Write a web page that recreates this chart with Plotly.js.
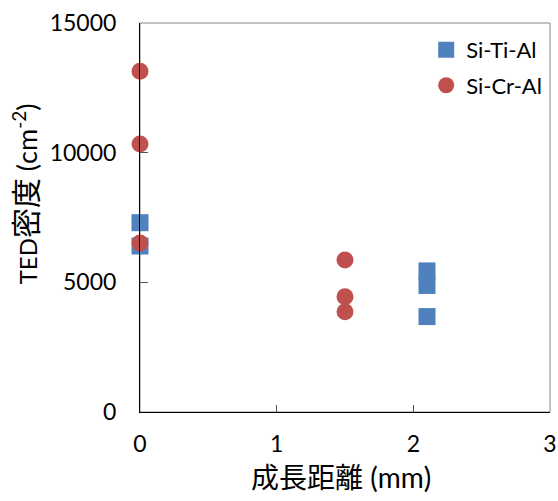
<!DOCTYPE html>
<html>
<head>
<meta charset="utf-8">
<script src="https://cdn.plot.ly/plotly-3.0.1.min.js"></script>
<style>
  html, body { margin: 0; padding: 0; background: #ffffff; }
  #chart { width: 558px; height: 501px; }
</style>
</head>
<body>
<div id="chart"></div>
<script>
// Series names
const seriesNames = ["Si-Ti-Al", "Si-Cr-Al"];

// Si-Ti-Al: growth distance (mm) and TED density (cm^-2)
const tiX = [0, 0, 2.1, 2.1, 2.1];
const tiY = [7300, 6400, 5440, 4880, 3680];

// Si-Cr-Al: growth distance (mm) and TED density (cm^-2)
const crX = [0, 0, 0, 1.5, 1.5, 1.5];
const crY = [13140, 10330, 6520, 5860, 4440, 3870];

// Axis ticks and titles
const xTicks = [0, 1, 2, 3];
const yTicks = [0, 5000, 10000, 15000];
const xTitle = "成長距離 (mm)";
const yTitle = "<span style='font-size:24px'>TED</span><span style='font-size:30px'>密度</span>" +
               "<span style='font-size:27px'> (cm</span><span style='font-size:27px'><sup>-2</sup></span>" +
               "<span style='font-size:27px'>)</span>";

const baseFont = "Lato, 'Noto Sans CJK JP', 'Noto Sans', sans-serif";

const traces = [
  {
    type: "scatter", mode: "markers", name: seriesNames[0], legendgroup: "ti",
    x: tiX, y: tiY, cliponaxis: false,
    marker: { symbol: "square", size: 17, color: "#4F81BD" }
  },
  {
    type: "scatter", mode: "markers", name: seriesNames[1], legendgroup: "cr",
    x: crX, y: crY, cliponaxis: false,
    marker: { symbol: "circle", size: 17, color: "#C0504D" }
  }
];

const layout = {
  width: 558, height: 501,
  margin: { l: 140, r: 8, t: 23, b: 89 },
  paper_bgcolor: "#ffffff", plot_bgcolor: "#ffffff",
  font: { family: baseFont, size: 24, color: "#000000" },
  showlegend: true,
  legend: {
    x: 0.698, y: 0.985, xanchor: "left", yanchor: "top",
    bgcolor: "rgba(0,0,0,0)", borderwidth: 0,
    font: { family: baseFont, size: 22, color: "#000000" },
    itemwidth: 30, tracegroupgap: 4
  },
  xaxis: {
    range: [0, 3], tickvals: xTicks, ticktext: xTicks.map(String),
    showgrid: false, zeroline: false,
    showline: true, linecolor: "#000000", linewidth: 1,
    ticks: "inside", ticklen: 7, tickcolor: "#555555",
    ticklabelstandoff: 11,
    tickfont: { family: baseFont, size: 23 }
  },
  yaxis: {
    range: [0, 15000], tickvals: yTicks, ticktext: yTicks.map(String),
    showgrid: false, zeroline: false,
    showline: true, linecolor: "#000000", linewidth: 1,
    ticks: "inside", ticklen: 8, tickcolor: "#555555",
    ticklabelstandoff: 18,
    tickfont: { family: baseFont, size: 23 }
  },
  annotations: [
    { text: xTitle, xref: "paper", yref: "paper", x: 0.49, y: -0.168,
      xanchor: "center", yanchor: "middle", showarrow: false,
      font: { family: baseFont, size: 28, color: "#000000" } },
    { text: yTitle, xref: "paper", yref: "paper", x: -0.28, y: 0.56,
      xanchor: "center", yanchor: "middle", textangle: -90, showarrow: false,
      font: { family: baseFont, size: 26, color: "#000000" } }
  ],
  shapes: [
    // grey frame around the plot area
    { type: "rect", xref: "paper", yref: "paper", x0: 0, x1: 1, y0: 0, y1: 1,
      line: { color: "#868686", width: 1 }, fillcolor: "rgba(0,0,0,0)", layer: "below" }
  ]
};

Plotly.newPlot("chart", traces, layout, { displayModeBar: false, staticPlot: true });
</script>
</body>
</html>
